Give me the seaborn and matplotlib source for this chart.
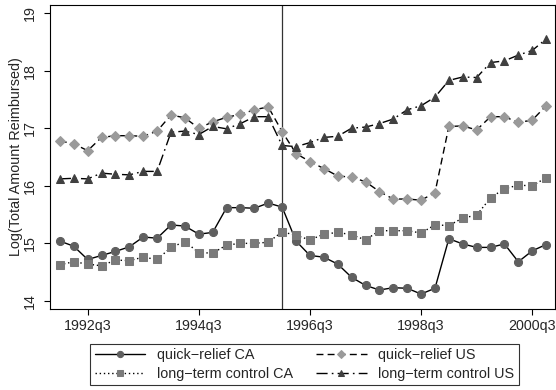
import matplotlib
matplotlib.use("Agg")
import matplotlib.pyplot as plt
import seaborn as sns
import numpy as np
import pandas as pd

# quarters 1992q1 ... 2000q4
quarters = [f"{y}q{q}" for y in range(1992, 2001) for q in range(1, 5)]

quick_relief_CA = [15.04, 14.95, 14.72, 14.79, 14.86, 14.94, 15.11, 15.09, 15.32, 15.30,
                   15.16, 15.19, 15.62, 15.62, 15.61, 15.70, 15.63, 15.04, 14.79, 14.76,
                   14.64, 14.41, 14.27, 14.19, 14.23, 14.22, 14.12, 14.22, 15.08, 14.99,
                   14.93, 14.93, 14.99, 14.68, 14.87, 14.98]
quick_relief_US = [16.78, 16.73, 16.61, 16.84, 16.87, 16.87, 16.86, 16.95, 17.23, 17.18,
                   17.00, 17.11, 17.19, 17.24, 17.32, 17.37, 16.94, 16.56, 16.42, 16.30,
                   16.17, 16.15, 16.07, 15.90, 15.77, 15.77, 15.75, 15.88, 17.03, 17.04,
                   16.97, 17.20, 17.20, 17.10, 17.14, 17.39]
long_term_CA = [14.63, 14.68, 14.64, 14.61, 14.71, 14.70, 14.76, 14.72, 14.93, 15.03,
                14.84, 14.83, 14.97, 15.00, 15.00, 15.02, 15.20, 15.14, 15.06, 15.16,
                15.19, 15.15, 15.06, 15.22, 15.22, 15.22, 15.18, 15.32, 15.31, 15.44,
                15.49, 15.79, 15.95, 16.01, 16.00, 16.14]
long_term_US = [16.12, 16.13, 16.12, 16.22, 16.20, 16.19, 16.25, 16.25, 16.93, 16.95,
                16.89, 17.03, 16.99, 17.08, 17.20, 17.20, 16.70, 16.68, 16.75, 16.84,
                16.86, 17.00, 17.02, 17.08, 17.16, 17.32, 17.39, 17.54, 17.83, 17.89,
                17.88, 18.14, 18.17, 18.27, 18.35, 18.55]

tick_labels = ["1992q3", "1994q3", "1996q3", "1998q3", "2000q3"]
policy_quarter = "1996q1"
series_names = ["quick\u2212relief CA", "quick\u2212relief US",
                "long\u2212term control CA", "long\u2212term control US"]

t = np.arange(len(quarters))
df = pd.DataFrame({
    "t": np.tile(t, 4),
    "value": quick_relief_CA + quick_relief_US + long_term_CA + long_term_US,
    "series": np.repeat(series_names, len(quarters)),
})

sns.set_style("ticks")
plt.rcParams["font.family"] = ["Liberation Sans", "DejaVu Sans"]

fig = plt.figure(figsize=(5.56, 3.9), dpi=100)
ax = fig.add_axes([50/556, 1-309/390, 505/556, 304/390])

styles = {
    series_names[0]: dict(marker="o", mfc="#5f5f5f", ls="-", ms=5.8),
    series_names[1]: dict(marker="D", mfc="#9a9a9a", ls=(0, (5, 3)), ms=5.3),
    series_names[2]: dict(marker="s", mfc="#7a7a7a", ls=(0, (1, 2)), ms=5.3),
    series_names[3]: dict(marker="^", mfc="#404040", ls=(0, (8, 3, 1.2, 3)), ms=6.2),
}
handles = {}
for name in series_names:
    st = styles[name]
    sub = df[df["series"] == name]
    sns.lineplot(data=sub, x="t", y="value", ax=ax, color="black", lw=1.0,
                 linestyle=st["ls"], marker=st["marker"], markersize=st["ms"],
                 markerfacecolor=st["mfc"], markeredgecolor=st["mfc"],
                 label=name, legend=False)
    handles[name] = ax.lines[-1]

ax.axvline(quarters.index(policy_quarter), color="#333333", lw=0.9, zorder=0)

ax.set_xlim(-0.71, 35.64)
ax.set_ylim(13.86, 19.14)
ax.set_xticks([quarters.index(l) for l in tick_labels])
ax.set_xticklabels(tick_labels)
ax.set_yticks([14, 15, 16, 17, 18, 19])
ax.set_yticklabels(["14", "15", "16", "17", "18", "19"], rotation=90, va="center")
ax.set_xlabel("")
ax.set_ylabel("Log(Total Amount Reimbursed)", fontsize=10.4)
ax.yaxis.set_label_coords(-0.053, 0.5)
ax.tick_params(axis="both", labelsize=10.3, length=4, width=0.8, color="black")
ax.tick_params(axis="x", pad=3)
ax.tick_params(axis="y", pad=5.5)
for s in ax.spines.values():
    s.set_visible(True)
    s.set_color("black")
    s.set_linewidth(0.8)

# column-major fill: col 1 = CA series, col 2 = US series
order = [series_names[0], series_names[2], series_names[1], series_names[3]]
leg = fig.legend([handles[n] for n in order], order, ncol=2,
                 loc="center", bbox_to_anchor=((87+522)/2/556, 1-364.5/390),
                 frameon=True, fancybox=False, edgecolor="black", fontsize=10.4,
                 handlelength=3.5, columnspacing=1.6, handletextpad=0.8,
                 borderpad=0.3, labelspacing=0.35)
leg.get_frame().set_linewidth(0.8)
for h in leg.legend_handles:
    h.set_markersize(4.5)

fig.savefig("out.png", dpi=100)
